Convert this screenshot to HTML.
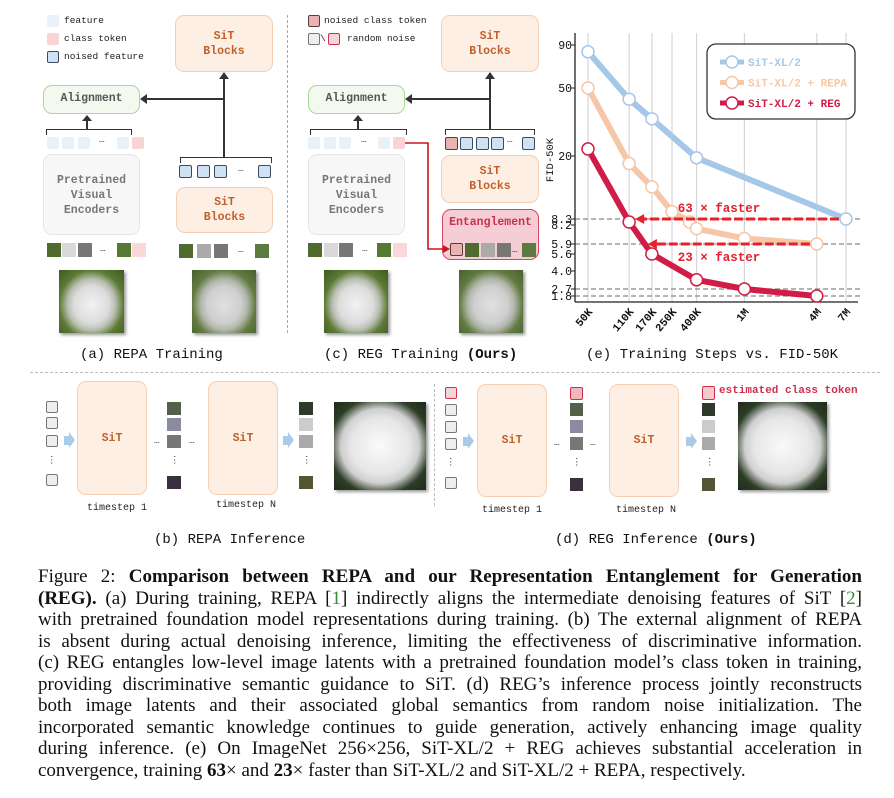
<!DOCTYPE html>
<html><head><meta charset="utf-8">
<style>
body{margin:0;background:#fff;}
#root{position:relative;width:894px;height:798px;overflow:hidden;background:#fff;font-family:"Liberation Mono",monospace;}
.a{position:absolute;}
.box{position:absolute;border-radius:9px;box-sizing:border-box;}
.sit{background:#fdefe4;border:1.5px solid #f6cfb2;color:#c0602a;font-weight:bold;font-size:11.5px;text-align:center;line-height:15px;display:flex;align-items:center;justify-content:center;}
.tok{position:absolute;width:12px;height:12px;border-radius:2px;box-sizing:border-box;}
.feat{background:#eaf1f8;}
.cls{background:#f9d3d6;}
.nf{background:#cfe2f5;border:1.5px solid #3c4b5c;}
.nc{background:#e7b3b3;border:1.5px solid #5a3b3b;}
.rn{background:#eee;border:1.5px solid #777;}
.rnr{background:#f3d6d9;border:1.5px solid #d0304c;}
.patch{position:absolute;width:14px;height:14px;}
.dog{position:absolute;background:radial-gradient(ellipse at 50% 55%,#f2f2f2 0%,#dcdcdc 38%,#b9bfb1 52%,#5c7a35 70%,#3f5a22 100%);box-shadow:2px 2px 3px #999;}
.dog2{background:radial-gradient(ellipse at 50% 50%,#fafafa 0%,#e6e6e6 45%,#cfcfcf 60%,#2d3d27 78%,#1e2a18 100%);}
.cap{position:absolute;font-size:14px;color:#111;white-space:nowrap;}
.sm{position:absolute;font-size:9.5px;color:#222;white-space:nowrap;}
.ts{position:absolute;font-size:10px;color:#222;white-space:nowrap;}
.ln{position:absolute;background:#333;}
.cl{font-family:"Liberation Serif",serif;font-size:19px;color:#111;position:absolute;left:38px;line-height:21px;height:22px;white-space:nowrap;}
</style></head><body>
<div id="root">

<!-- Panel a -->
<div>
<div class="tok feat" style="left:47px;top:15px"></div>
<div class="sm" style="left:64px;top:15px">feature</div>
<div class="tok cls" style="left:47px;top:33px"></div>
<div class="sm" style="left:64px;top:33px">class token</div>
<div class="tok nf" style="left:47px;top:51px"></div>
<div class="sm" style="left:64px;top:51px">noised feature</div>

<div class="box sit" style="left:175px;top:15px;width:98px;height:57px">SiT<br>Blocks</div>
<div class="box" style="left:43px;top:85px;width:97px;height:29px;background:#f3f9ef;border:1.5px solid #a8d89a;font-size:11.5px;color:#555;font-weight:bold;text-align:center;line-height:26px">Alignment</div>
<div class="ln" style="left:223px;top:76px;width:1.5px;height:81px"></div>
<div class="a" style="left:219px;top:72px;border-left:5px solid transparent;border-right:5px solid transparent;border-bottom:7px solid #333"></div>
<div class="ln" style="left:146px;top:98px;width:78px;height:1.5px"></div>
<div class="a" style="left:140px;top:94px;border-top:5px solid transparent;border-bottom:5px solid transparent;border-right:7px solid #333"></div>
<div class="a" style="left:46px;top:129px;width:84px;height:5px;border:1.5px solid #333;border-bottom:none"></div>
<div class="ln" style="left:86px;top:120px;width:1.5px;height:10px"></div>
<div class="a" style="left:82px;top:115px;border-left:5px solid transparent;border-right:5px solid transparent;border-bottom:6px solid #333"></div>
<div class="tok feat" style="left:47px;top:137px"></div>
<div class="tok feat" style="left:62px;top:137px"></div>
<div class="tok feat" style="left:78px;top:137px"></div>
<div class="sm" style="left:99px;top:134px">…</div>
<div class="tok feat" style="left:117px;top:137px"></div>
<div class="tok cls" style="left:132px;top:137px"></div>
<div class="box" style="left:43px;top:154px;width:97px;height:81px;background:#f7f7f7;border:1.5px solid #e6e6e6;color:#777;font-weight:bold;font-size:11.5px;text-align:center;line-height:15px;padding-top:18px">Pretrained<br>Visual<br>Encoders</div>
<div class="patch" style="left:47px;top:243px;background:#4f6b2e"></div>
<div class="patch" style="left:62px;top:243px;background:#d9d9d9"></div>
<div class="patch" style="left:78px;top:243px;background:#777"></div>
<div class="sm" style="left:100px;top:243px">…</div>
<div class="patch" style="left:117px;top:243px;background:#557a31"></div>
<div class="patch" style="left:132px;top:243px;background:#fad7d9"></div>
<div class="dog" style="left:59px;top:270px;width:65px;height:63px"></div>

<div class="a" style="left:180px;top:157px;width:90px;height:5px;border:1.5px solid #333;border-bottom:none"></div>
<div class="tok nf" style="left:179px;top:165px;width:13px;height:13px"></div>
<div class="tok nf" style="left:197px;top:165px;width:13px;height:13px"></div>
<div class="tok nf" style="left:214px;top:165px;width:13px;height:13px"></div>
<div class="sm" style="left:238px;top:163px">…</div>
<div class="tok nf" style="left:258px;top:165px;width:13px;height:13px"></div>
<div class="box sit" style="left:176px;top:187px;width:97px;height:46px">SiT<br>Blocks</div>
<div class="patch" style="left:179px;top:244px;background:#4f6b2e"></div>
<div class="patch" style="left:197px;top:244px;background:#aaa"></div>
<div class="patch" style="left:214px;top:244px;background:#777"></div>
<div class="sm" style="left:238px;top:244px">…</div>
<div class="patch" style="left:255px;top:244px;background:#5e7a43"></div>
<div class="dog" style="left:192px;top:270px;width:64px;height:63px;filter:contrast(0.85)"></div>
<div class="cap" style="left:80px;top:347px">(a) REPA Training</div>
</div>

<div class="a" style="left:287px;top:15px;height:318px;border-left:1.5px dashed #aaa"></div>

<!-- Panel c -->
<div>
<div class="tok nc" style="left:308px;top:15px"></div>
<div class="sm" style="left:324px;top:15px">noised class token</div>
<div class="tok rn" style="left:308px;top:33px"></div>
<div class="sm" style="left:320px;top:33px">\</div>
<div class="tok rnr" style="left:328px;top:33px"></div>
<div class="sm" style="left:347px;top:33px">random noise</div>
<div class="box sit" style="left:441px;top:15px;width:98px;height:57px">SiT<br>Blocks</div>
<div class="box" style="left:308px;top:85px;width:97px;height:29px;background:#f3f9ef;border:1.5px solid #a8d89a;font-size:11.5px;color:#555;font-weight:bold;text-align:center;line-height:26px">Alignment</div>
<div class="ln" style="left:489px;top:76px;width:1.5px;height:54px"></div>
<div class="a" style="left:485px;top:72px;border-left:5px solid transparent;border-right:5px solid transparent;border-bottom:7px solid #333"></div>
<div class="ln" style="left:411px;top:98px;width:79px;height:1.5px"></div>
<div class="a" style="left:405px;top:94px;border-top:5px solid transparent;border-bottom:5px solid transparent;border-right:7px solid #333"></div>
<div class="a" style="left:310px;top:129px;width:95px;height:5px;border:1.5px solid #333;border-bottom:none"></div>
<div class="ln" style="left:357px;top:120px;width:1.5px;height:10px"></div>
<div class="a" style="left:353px;top:115px;border-left:5px solid transparent;border-right:5px solid transparent;border-bottom:6px solid #333"></div>
<div class="tok feat" style="left:308px;top:137px"></div>
<div class="tok feat" style="left:324px;top:137px"></div>
<div class="tok feat" style="left:339px;top:137px"></div>
<div class="sm" style="left:361px;top:134px">…</div>
<div class="tok feat" style="left:378px;top:137px"></div>
<div class="tok cls" style="left:393px;top:137px"></div>
<div class="box" style="left:308px;top:154px;width:97px;height:81px;background:#f7f7f7;border:1.5px solid #e6e6e6;color:#777;font-weight:bold;font-size:11.5px;text-align:center;line-height:15px;padding-top:18px">Pretrained<br>Visual<br>Encoders</div>
<div class="patch" style="left:308px;top:243px;background:#4f6b2e"></div>
<div class="patch" style="left:324px;top:243px;background:#d9d9d9"></div>
<div class="patch" style="left:339px;top:243px;background:#777"></div>
<div class="sm" style="left:362px;top:243px">…</div>
<div class="patch" style="left:377px;top:243px;background:#557a31"></div>
<div class="patch" style="left:393px;top:243px;background:#fad7d9"></div>
<div class="dog" style="left:324px;top:270px;width:64px;height:63px"></div>

<div class="a" style="left:445px;top:129px;width:88px;height:5px;border:1.5px solid #333;border-bottom:none"></div>
<div class="tok nc" style="left:445px;top:137px;width:13px;height:13px"></div>
<div class="tok nf" style="left:460px;top:137px;width:13px;height:13px"></div>
<div class="tok nf" style="left:476px;top:137px;width:13px;height:13px"></div>
<div class="tok nf" style="left:491px;top:137px;width:13px;height:13px"></div>
<div class="sm" style="left:507px;top:134px">…</div>
<div class="tok nf" style="left:522px;top:137px;width:13px;height:13px"></div>
<div class="box sit" style="left:441px;top:155px;width:98px;height:48px">SiT<br>Blocks</div>
<div class="box" style="left:442px;top:209px;width:97px;height:51px;background:#f5cdd5;border:1.5px solid #d6475f"></div>
<div class="a" style="left:442px;top:216px;width:97px;text-align:center;color:#c9304d;font-weight:bold;font-size:11.5px">Entanglement</div>
<div class="tok nc" style="left:450px;top:243px;width:13px;height:13px"></div>
<div class="patch" style="left:465px;top:243px;background:#4f6b2e"></div>
<div class="patch" style="left:481px;top:243px;background:#aaa"></div>
<div class="patch" style="left:497px;top:243px;background:#777"></div>
<div class="sm" style="left:512px;top:244px">…</div>
<div class="patch" style="left:522px;top:243px;background:#5e7a43"></div>
<svg class="a" style="left:0;top:0" width="894" height="372"><polyline points="405,143 428,143 428,249 444,249" fill="none" stroke="#d0141f" stroke-width="1.6"/><polygon points="450,249 443,245 443,253" fill="#d0141f"/></svg>
<div class="dog" style="left:459px;top:270px;width:64px;height:63px;filter:contrast(0.85)"></div>
<div class="cap" style="left:324px;top:347px">(c) REG Training <b>(Ours)</b></div>
</div>

<!-- Chart e -->
<svg class="a" style="left:0;top:0" width="894" height="372" id="chart"></svg>
<div class="cap" style="left:586px;top:347px">(e) Training Steps vs. FID-50K</div>

<div class="a" style="left:30px;top:372px;width:850px;border-top:1.5px dashed #bbb"></div>

<!-- Panel b -->
<div>
<div class="tok rn" style="left:46px;top:401px"></div>
<div class="tok rn" style="left:46px;top:417px"></div>
<div class="tok rn" style="left:46px;top:435px"></div>
<div class="sm" style="left:47px;top:455px">⋮</div>
<div class="tok rn" style="left:46px;top:474px"></div>
<div class="a" style="left:64px;top:436px;width:5px;height:9px;background:#a9cbe9"></div>
<div class="a" style="left:69px;top:432px;border-top:8px solid transparent;border-bottom:8px solid transparent;border-left:6px solid #a9cbe9"></div>
<div class="box sit" style="left:77px;top:381px;width:70px;height:114px">SiT</div>
<div class="sm" style="left:154px;top:435px">…</div>
<div class="patch" style="left:167px;top:402px;height:13px;background:#55604a"></div>
<div class="patch" style="left:167px;top:418px;height:13px;background:#8a8aa0"></div>
<div class="patch" style="left:167px;top:435px;height:13px;background:#777"></div>
<div class="sm" style="left:170px;top:455px">⋮</div>
<div class="patch" style="left:167px;top:476px;height:13px;background:#3a3040"></div>
<div class="sm" style="left:189px;top:435px">…</div>
<div class="box sit" style="left:208px;top:381px;width:70px;height:114px">SiT</div>
<div class="a" style="left:283px;top:436px;width:5px;height:9px;background:#a9cbe9"></div>
<div class="a" style="left:288px;top:432px;border-top:8px solid transparent;border-bottom:8px solid transparent;border-left:6px solid #a9cbe9"></div>
<div class="patch" style="left:299px;top:402px;height:13px;background:#2f3a2a"></div>
<div class="patch" style="left:299px;top:418px;height:13px;background:#ccc"></div>
<div class="patch" style="left:299px;top:435px;height:13px;background:#aaa"></div>
<div class="sm" style="left:302px;top:455px">⋮</div>
<div class="patch" style="left:299px;top:476px;height:13px;background:#553"></div>
<div class="dog dog2" style="left:334px;top:402px;width:92px;height:88px"></div>
<div class="ts" style="left:87px;top:503px">timestep 1</div>
<div class="ts" style="left:216px;top:500px">timestep N</div>
<div class="cap" style="left:154px;top:532px">(b) REPA Inference</div>
</div>

<div class="a" style="left:434px;top:384px;height:122px;border-left:1.5px dashed #bbb"></div>

<!-- Panel d -->
<div>
<div class="tok rnr" style="left:445px;top:387px"></div>
<div class="tok rn" style="left:445px;top:404px"></div>
<div class="tok rn" style="left:445px;top:421px"></div>
<div class="tok rn" style="left:445px;top:438px"></div>
<div class="sm" style="left:446px;top:457px">⋮</div>
<div class="tok rn" style="left:445px;top:477px"></div>
<div class="a" style="left:463px;top:437px;width:5px;height:9px;background:#a9cbe9"></div>
<div class="a" style="left:468px;top:433px;border-top:8px solid transparent;border-bottom:8px solid transparent;border-left:6px solid #a9cbe9"></div>
<div class="box sit" style="left:477px;top:384px;width:70px;height:113px">SiT</div>
<div class="sm" style="left:554px;top:437px">…</div>
<div class="tok" style="left:570px;top:387px;width:13px;height:13px;background:#f0b7bd;border:1.5px solid #d0304c"></div>
<div class="patch" style="left:570px;top:403px;width:13px;height:13px;background:#55604a"></div>
<div class="patch" style="left:570px;top:420px;width:13px;height:13px;background:#8a8aa0"></div>
<div class="patch" style="left:570px;top:437px;width:13px;height:13px;background:#777"></div>
<div class="sm" style="left:572px;top:457px">⋮</div>
<div class="patch" style="left:570px;top:478px;width:13px;height:13px;background:#3a3040"></div>
<div class="sm" style="left:590px;top:437px">…</div>
<div class="box sit" style="left:609px;top:384px;width:70px;height:113px">SiT</div>
<div class="a" style="left:686px;top:437px;width:5px;height:9px;background:#a9cbe9"></div>
<div class="a" style="left:691px;top:433px;border-top:8px solid transparent;border-bottom:8px solid transparent;border-left:6px solid #a9cbe9"></div>
<div class="tok" style="left:702px;top:386px;width:13px;height:14px;background:#f7c9ce;border:1.5px solid #d0304c"></div>
<div class="a" style="left:719px;top:385px;font-size:11px;color:#d0304c;font-weight:bold;white-space:nowrap">estimated class token</div>
<div class="patch" style="left:702px;top:403px;width:13px;height:13px;background:#2f3a2a"></div>
<div class="patch" style="left:702px;top:420px;width:13px;height:13px;background:#ccc"></div>
<div class="patch" style="left:702px;top:437px;width:13px;height:13px;background:#aaa"></div>
<div class="sm" style="left:705px;top:457px">⋮</div>
<div class="patch" style="left:702px;top:478px;width:13px;height:13px;background:#553"></div>
<div class="dog dog2" style="left:738px;top:402px;width:89px;height:88px"></div>
<div class="ts" style="left:482px;top:505px">timestep 1</div>
<div class="ts" style="left:616px;top:505px">timestep N</div>
<div class="cap" style="left:555px;top:532px">(d) REG Inference <b>(Ours)</b></div>
</div>

<!-- Caption text -->
<div>
<div class="cl fit" style="top:566px">Figure 2: <b>Comparison between REPA and our Representation Entanglement for Generation</b></div>
<div class="cl fit" style="top:588px"><b>(REG).</b> (a) During training, REPA [<span style="color:#3a8a3a">1</span>] indirectly aligns the intermediate denoising features of SiT [<span style="color:#3a8a3a">2</span>]</div>
<div class="cl fit" style="top:609px">with pretrained foundation model representations during training. (b) The external alignment of REPA</div>
<div class="cl fit" style="top:631px">is absent during actual denoising inference, limiting the effectiveness of discriminative information.</div>
<div class="cl fit" style="top:652px">(c) REG entangles low-level image latents with a pretrained foundation model’s class token in training,</div>
<div class="cl fit" style="top:674px">providing discriminative semantic guidance to SiT. (d) REG’s inference process jointly reconstructs</div>
<div class="cl fit" style="top:695px">both image latents and their associated global semantics from random noise initialization. The</div>
<div class="cl fit" style="top:717px">incorporated semantic knowledge continues to guide generation, actively enhancing image quality</div>
<div class="cl fit" style="top:738px">during inference. (e) On ImageNet 256×256, SiT-XL/2 + REG achieves substantial acceleration in</div>
<div class="cl" style="top:760px">convergence, training <b>63</b>× and <b>23</b>× faster than SiT-XL/2 and SiT-XL/2 + REPA, respectively.</div>
</div>
</div>

<script>
document.querySelectorAll('.cl.fit').forEach(el=>{
  const w=el.getBoundingClientRect().width;
  const n=(el.textContent.match(/ /g)||[]).length;
  if(n>0) el.style.wordSpacing=((824-w)/n)+'px';
});
</script>
<script>
const xSteps = [50e3,110e3,170e3,250e3,400e3,1e6,4e6,7e6];
const xLabels = ["50K","110K","170K","250K","400K","1M","4M","7M"];
const yTicks = [90,50,20,8.3,8.2,5.9,5.6,4.0,2.7,1.8];
const yTickLabels = ["90","50","20","8.3","8.2","5.9","5.6","4.0","2.7","1.8"];
const sitSteps = [50e3,110e3,170e3,400e3,7e6];
const sitFid = [82,43,33,19.5,8.3];
const repaSteps = [50e3,110e3,170e3,250e3,350e3,400e3,1e6,4e6];
const repaFid = [50,18,13,9.2,8.25,7.7,6.5,5.9];
const regSteps = [50e3,110e3,170e3,400e3,1e6,4e6];
const regFid = [22,8.25,5.6,3.3,2.7,1.8];
const guideLines = [8.3,5.9,2.7,1.8];

// axis definition (tick value -> screen row)
const yKnotPx = [45,88,156,219,225,244,254,271,289,296];
function X(v){return 588+(Math.log10(v)-Math.log10(5e4))*120.2;}
function Y(v){
  for(let i=0;i<yTicks.length-1;i++){
    const a=yTicks[i],b=yTicks[i+1];
    if(v<=a&&v>=b){const f=Math.log(a/v)/Math.log(a/b);return yKnotPx[i]+f*(yKnotPx[i+1]-yKnotPx[i]);}
  }
  return v>yTicks[0]?yKnotPx[0]:yKnotPx[yKnotPx.length-1];
}
const svg=document.getElementById('chart');
const NS='http://www.w3.org/2000/svg';
function mk(t,at){const e=document.createElementNS(NS,t);for(const k in at)e.setAttribute(k,at[k]);svg.appendChild(e);return e;}
const L=575,R=858,T=33,B=302;
xSteps.forEach((s,i)=>{
  const g=mk('line',{x1:X(s),x2:X(s),y1:T,y2:B,stroke:'#d6d6d6','stroke-width':1.2});
  
  
  const t=mk('text',{x:X(s)+5,y:B+10,'font-size':11,'font-family':'Liberation Mono, monospace','font-weight':'bold','text-anchor':'end',transform:`rotate(-50 ${X(s)+5} ${B+10})`,fill:'#111'});
  t.textContent=xLabels[i];
  
  
});
guideLines.forEach(v=>{
  const g=mk('line',{x1:L,x2:R+2,y1:Y(v),y2:Y(v),stroke:'#888','stroke-width':1.2,'stroke-dasharray':'5,3'});
  
  
});
mk('line',{x1:L,x2:L,y1:T,y2:B,stroke:'#222','stroke-width':1.3});
mk('line',{x1:L,x2:R,y1:B,y2:B,stroke:'#222','stroke-width':1.3});
yTicks.forEach((v,i)=>{
  mk('line',{x1:L-4,x2:L,y1:Y(v),y2:Y(v),stroke:'#222'});
  const t=mk('text',{x:L-3,y:Y(v)+4,'font-size':11.5,'font-family':'Liberation Mono, monospace','text-anchor':'end',fill:'#111'});
  t.textContent=yTickLabels[i];
  
  
});
const yt=mk('text',{x:553,y:160,'font-size':10.5,'font-family':'Liberation Mono, monospace','text-anchor':'middle',transform:'rotate(-90 553 160)',fill:'#111'});
yt.textContent='FID-50K';


function series(steps,vals,col,name){
  const p=mk('polyline',{points:steps.map((s,i)=>X(s)+','+Y(vals[i])).join(' '),fill:'none',stroke:col,'stroke-width':6,'stroke-linejoin':'round'});
  
  
  steps.forEach((s,i)=>{
    const c=mk('circle',{cx:X(s),cy:Y(vals[i]),r:6,fill:'#fff',stroke:col,'stroke-width':1.5});
    
    
  });
}
series(sitSteps,sitFid,'#a6c8e8','sit');
series(repaSteps,repaFid,'#f6c7a6','repa');
function arrow(y,x0,x1,label,ly){
  const l=mk('line',{x1:x0,x2:x1+8,y1:y,y2:y,stroke:'#e8202a','stroke-width':3,'stroke-dasharray':'9,3'});
  
  
  mk('polygon',{points:`${x1},${y} ${x1+9},${y-5} ${x1+9},${y+5}`,fill:'#e8202a'});
  const t=mk('text',{x:719,y:ly,'font-size':12.5,'font-family':'Liberation Mono, monospace','font-weight':'bold','text-anchor':'middle',fill:'#e3202e'});
  t.textContent=label;
  
  
}
series(regSteps,regFid,'#d11c48','reg');
arrow(Y(8.3),X(7e6)-7,X(110e3)+6,'63 × faster',212);
arrow(Y(5.9),X(4e6)-7,X(170e3)-4,'23 × faster',261);
const lg=mk('rect',{x:707,y:44,width:148,height:75,rx:9,fill:'#fff',stroke:'#333','stroke-width':1.3});


[['SiT-XL/2','#a6c8e8'],['SiT-XL/2 + REPA','#f6c7a6'],['SiT-XL/2 + REG','#d11c48']].forEach((e,i)=>{
  const y=62+i*20.5;
  mk('line',{x1:720,x2:744,y1:y,y2:y,stroke:e[1],'stroke-width':5});
  mk('circle',{cx:732,cy:y,r:6,fill:'#fff',stroke:e[1],'stroke-width':1.5});
  const t=mk('text',{x:748,y:y+4,'font-size':11,'font-family':'Liberation Mono, monospace','font-weight':'bold',fill:e[1]});
  t.textContent=e[0];
  
  
});
</script>
</body></html>
